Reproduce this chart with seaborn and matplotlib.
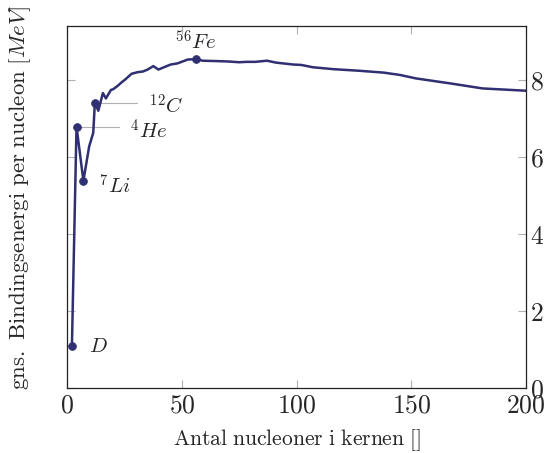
import matplotlib
matplotlib.use("Agg")
import matplotlib.pyplot as plt
import seaborn as sns
import pandas as pd

# Mass number A and average binding energy per nucleon (MeV)
mass_number = [2, 4, 7, 9.5, 11.3, 12, 13.5, 15.5, 16.8, 19, 20, 22, 23.7, 25, 28, 30.5, 33,
               35, 37.5, 39.7, 45, 48, 52.5, 56, 59, 65, 70, 75, 78, 82, 87, 91, 98.6,
               102, 107, 116, 127, 138, 145, 152, 167, 181, 200]
binding_energy = [1.10, 6.79, 5.38, 6.27, 6.63, 7.41, 7.20, 7.66, 7.52, 7.74, 7.76, 7.85, 7.94,
                  8.00, 8.16, 8.20, 8.22, 8.27, 8.36, 8.27, 8.40, 8.43, 8.53, 8.54, 8.50,
                  8.49, 8.48, 8.46, 8.47, 8.47, 8.50, 8.45, 8.40, 8.39, 8.33, 8.28, 8.24,
                  8.19, 8.13, 8.04, 7.91, 7.78, 7.72]

marked_a = [2, 4, 7, 12, 56]
marked_e = [1.10, 6.79, 5.38, 7.41, 8.54]
marked_labels = [r"$D$", r"$^{4}He$", r"$^{7}Li$", r"$^{12}C$", r"$^{56}Fe$"]

x_ticks = [0, 50, 100, 150, 200]
y_ticks = [0, 2, 4, 6, 8]

sns.set_theme(style="white")
plt.rcParams["mathtext.fontset"] = "cm"
plt.rcParams["font.family"] = ["DejaVu Serif"]

line_color = "#2f2f72"

fig = plt.figure(figsize=(5.52, 4.53), dpi=100)
ax = fig.add_axes([0.122, 0.1435, 0.831, 0.799])

df = pd.DataFrame({"A": mass_number, "E": binding_energy})
sns.lineplot(data=df, x="A", y="E", estimator=None, sort=False, ax=ax,
             color=line_color, linewidth=1.8)
dm = pd.DataFrame({"A": marked_a, "E": marked_e})
sns.scatterplot(data=dm, x="A", y="E", ax=ax, color=line_color, s=32,
                edgecolor=line_color, linewidth=0.5, zorder=5)

# guide lines and labels
ax.plot([4, 22.5], [6.79, 6.79], color="#b0b0b0", lw=0.8, zorder=1)
ax.plot([12, 30.5], [7.41, 7.41], color="#b0b0b0", lw=0.8, zorder=1)

fs = 15
ax.text(9.3, 1.07, marked_labels[0], fontsize=fs, va="center", ha="left")
ax.text(27.5, 6.68, marked_labels[1], fontsize=fs, va="center", ha="left")
ax.text(14.0, 5.26, marked_labels[2], fontsize=fs, va="center", ha="left")
ax.text(35.8, 7.33, marked_labels[3], fontsize=fs, va="center", ha="left")
ax.text(56, 9.0, marked_labels[4], fontsize=fs, va="center", ha="center")

ax.set_xlim(0, 200)
ax.set_ylim(0, 9.4)
ax.set_xticks(x_ticks)
ax.set_yticks(y_ticks)
ax.set_xticklabels([f"${t}$" for t in x_ticks], fontsize=18.5)
ax.set_yticklabels([f"${t}$" for t in y_ticks], fontsize=18.5)
ax.yaxis.tick_right()
ax.tick_params(axis="both", direction="in", length=6, width=0.8, color="#b0b0b0",
               top=True, bottom=True, left=True, right=True,
               labelleft=False, labelright=True, labeltop=False, labelbottom=True, pad=3)
ax.yaxis.set_label_position("left")

ax.set_xlabel(r"$\mathrm{Antal\ nucleoner\ i\ kernen\ []}$", fontsize=15.5, labelpad=7)
ax.set_ylabel(r"$\mathrm{gns.\ Bindingsenergi\ per\ nucleon}\ [MeV]$", fontsize=16.5)
ax.yaxis.set_label_coords(-0.075, 0.525)

for s in ax.spines.values():
    s.set_color("#222222")
    s.set_linewidth(0.9)

fig.savefig("out.png", dpi=100)
